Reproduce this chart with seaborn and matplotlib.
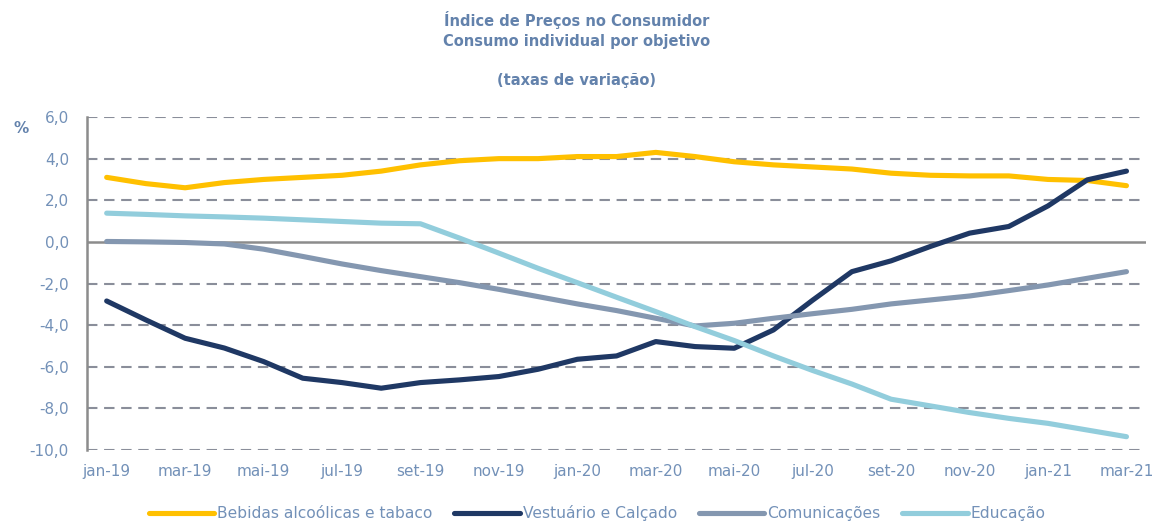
import numpy as np
import pandas as pd
import matplotlib
matplotlib.use("Agg")
import matplotlib.pyplot as plt
import seaborn as sns

# monthly data jan-19 .. mar-21
months = ["jan-19", "fev-19", "mar-19", "abr-19", "mai-19", "jun-19", "jul-19", "ago-19",
          "set-19", "out-19", "nov-19", "dez-19", "jan-20", "fev-20", "mar-20", "abr-20",
          "mai-20", "jun-20", "jul-20", "ago-20", "set-20", "out-20", "nov-20", "dez-20",
          "jan-21", "fev-21", "mar-21"]

bebidas = [3.1, 2.8, 2.6, 2.85, 3.0, 3.1, 3.2, 3.4, 3.7, 3.9, 4.0, 4.0, 4.1, 4.1, 4.3,
           4.1, 3.85, 3.7, 3.6, 3.5, 3.3, 3.2, 3.17, 3.17, 3.0, 2.95, 2.7]
vestuario = [-2.84, -3.75, -4.63, -5.1, -5.75, -6.55, -6.76, -7.03, -6.76, -6.63, -6.47,
             -6.12, -5.64, -5.48, -4.79, -5.03, -5.11, -4.23, -2.8, -1.43, -0.91, -0.22,
             0.42, 0.74, 1.73, 2.98, 3.4]
comunicacoes = [0.02, 0.0, -0.03, -0.1, -0.35, -0.7, -1.06, -1.38, -1.67, -1.96, -2.28,
                -2.63, -2.98, -3.3, -3.67, -4.04, -3.91, -3.67, -3.45, -3.24, -2.98, -2.79,
                -2.6, -2.34, -2.07, -1.75, -1.43]
educacao = [1.38, 1.32, 1.25, 1.2, 1.14, 1.06, 0.98, 0.9, 0.87, 0.18, -0.54, -1.27, -1.96,
            -2.66, -3.35, -4.07, -4.74, -5.48, -6.18, -6.83, -7.56, -7.88, -8.2, -8.48,
            -8.72, -9.04, -9.36]

series_names = ["Bebidas alcoólicas e tabaco", "Vestuário e Calçado", "Comunicações", "Educação"]
colors = ["#FFC000", "#1F3864", "#8497B0", "#92CDDC"]

df = pd.DataFrame({"mes": months, series_names[0]: bebidas, series_names[1]: vestuario,
                   series_names[2]: comunicacoes, series_names[3]: educacao})
df["pos"] = np.arange(len(months))
long_df = df.melt(id_vars=["mes", "pos"], var_name="serie", value_name="valor")

sns.set_style("white")
plt.rcParams["font.family"] = ["DejaVu Sans"]
text_col = "#7391B8"
title_col = "#6382AC"

fig = plt.figure(figsize=(11.53, 5.24), dpi=100)
ax = fig.add_axes([0.0755, 0.1412, 0.9185, 0.6355])

# grid: dashed lines, solid line at zero
for y in range(-10, 7, 2):
    if y == 0:
        ax.axhline(0, color="#8C8C8C", lw=1.8, zorder=1)
    else:
        ax.axhline(y, color="#8A8E9A", lw=1.5, ls=(0, (5, 3.2)), zorder=1)

sns.lineplot(data=long_df, x="pos", y="valor", hue="serie", hue_order=series_names,
             palette=colors, linewidth=3.7, ax=ax, legend=True, zorder=3)
for ln in ax.lines:
    ln.set_solid_capstyle("round")

ax.set_xlim(-0.5, len(months) - 0.5)
ax.set_ylim(-10, 6)
ax.set_yticks(range(-10, 7, 2))
ax.set_yticklabels([f"{v:.1f}".replace(".", ",") for v in range(-10, 7, 2)],
                   color=text_col, fontsize=11)
xt = np.arange(0, len(months), 2)
ax.set_xticks(xt)
ax.set_xticklabels([months[i] for i in xt], color=text_col, fontsize=11)
ax.tick_params(axis="x", length=0, pad=10)
ax.tick_params(axis="y", length=0, pad=13)
ax.set_xlabel("")
ax.set_ylabel("")
for s in ["top", "right", "bottom"]:
    ax.spines[s].set_visible(False)
ax.spines["left"].set_color("#8C8C8C")
ax.spines["left"].set_linewidth(1.8)

fig.text(0.5, 0.962, "Índice de Preços no Consumidor", ha="center", va="center",
         fontsize=10.5, fontweight="bold", color=title_col)
fig.text(0.5, 0.92, "Consumo individual por objetivo", ha="center", va="center",
         fontsize=10.5, fontweight="bold", color=title_col)
fig.text(0.5, 0.847, "(taxas de variação)", ha="center", va="center",
         fontsize=10.5, fontweight="bold", color=title_col)
fig.text(0.012, 0.755, "%", ha="left", va="center", fontsize=11, fontweight="bold",
         color=title_col)

handles, labels = ax.get_legend_handles_labels()
ax.legend_.remove()
leg = fig.legend(handles, labels, loc="center", bbox_to_anchor=(0.518, 0.021), ncol=4,
                 frameon=False, fontsize=11.2, handlelength=4.2, columnspacing=1.4,
                 handletextpad=0.2)
for t in leg.get_texts():
    t.set_color(text_col)
for h in leg.legend_handles:
    h.set_linewidth(3.7)

fig.savefig("out.png", dpi=100)
